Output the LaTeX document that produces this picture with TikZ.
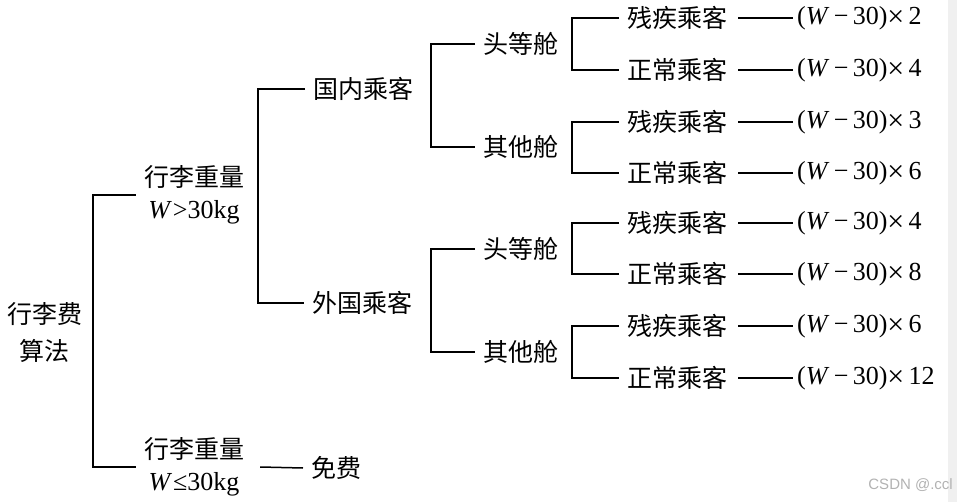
\documentclass[tikz,border=0pt]{standalone}
\usepackage{fontspec}
\setmainfont{Liberation Serif}
\newfontfamily\cjk{Noto Sans CJK SC}
\newfontfamily\wmfont{Liberation Sans}
\newcommand\zh[1]{{\cjk\fontsize{25}{32}\selectfont #1}}
\newcommand\bigtimes{\raisebox{-2pt}{\fontsize{30}{32}\selectfont ×}}
\begin{document}
\begin{tikzpicture}[x=1pt,y=-1pt,
  lbl/.style={inner xsep=8pt,inner ysep=0pt,anchor=west,font=\fontsize{26}{32}\selectfont},
  fml/.style={lbl,inner xsep=4pt},
  conn/.style={line width=1.5pt,line join=miter}]
\useasboundingbox (0,0) rectangle (957,502);
\fill[black!6] (948,0) rectangle (957,502);
% bracket x positions
\coordinate (x0) at (93,0);
\coordinate (x1) at (258,0);
\coordinate (x2) at (431,0);
\coordinate (x3) at (572,0);
% nodes
\node[lbl,anchor=center,align=center,font=\fontsize{26}{37}\selectfont] (root) at (45,332) {\zh{行李费}\\\zh{算法}};
\node[lbl,anchor=center,align=center] (w1) at (194,195) {\zh{行李重量}\\\textit{W}\kern1pt>30kg};
\node[lbl,anchor=center,align=center] (w2) at (194,467) {\zh{行李重量}\\\textit{W}\kern1pt≤30kg};
\node[lbl] (free) at (303,468) {\zh{免费}};
\node[lbl] (dom) at (305,89) {\zh{国内乘客}};
\node[lbl] (for) at (304,303) {\zh{外国乘客}};
\node[lbl] (c1) at (475,44) {\zh{头等舱}};
\node[lbl] (c2) at (475,147) {\zh{其他舱}};
\node[lbl] (c3) at (475,249) {\zh{头等舱}};
\node[lbl] (c4) at (475,352) {\zh{其他舱}};
\foreach \i/\y/\t/\m in {1/18/残疾乘客/2, 2/70/正常乘客/4, 3/122/残疾乘客/3, 4/173/正常乘客/6,
                         5/223/残疾乘客/4, 6/274/正常乘客/8, 7/326/残疾乘客/6, 8/378/正常乘客/12}{
  \node[lbl] (p\i) at (619,\y) {\zh{\t}};
  \node[fml] (f\i) at (793,\y) {(\textit{W}\,−\,30)\bigtimes\,\m};
  \draw[conn] ([xshift=3pt]p\i.east) -- (f\i.west);
}
% brackets
\draw[conn] (w1.west) -- (w1.west -| x0) -- (w2.west -| x0) -- (w2.west);
\draw[conn] ([xshift=8pt]w2.east) -- (free.west);
\draw[conn] (dom.west) -- (dom.west -| x1) -- (for.west -| x1) -- (for.west);
\draw[conn] (c1.west) -- (c1.west -| x2) -- (c2.west -| x2) -- (c2.west);
\draw[conn] (c3.west) -- (c3.west -| x2) -- (c4.west -| x2) -- (c4.west);
\foreach \a/\b in {1/2,3/4,5/6,7/8}{
  \draw[conn] (p\a.west) -- (p\a.west -| x3) -- (p\b.west -| x3) -- (p\b.west);
}
\node[anchor=east,inner sep=0pt,text=black!30,font=\wmfont\fontsize{15}{15}\selectfont] (wm) at (953,485) {CSDN @.ccl};
\end{tikzpicture}
\end{document}
